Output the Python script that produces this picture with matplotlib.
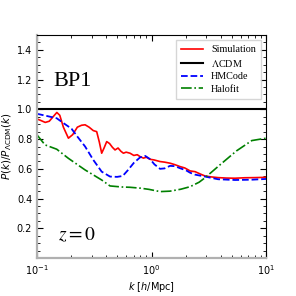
import numpy as np
import matplotlib
matplotlib.use("Agg")
import matplotlib.pyplot as plt

plt.rcParams['mathtext.fontset'] = 'dejavusans'

# ========== Данные ==========
k_sim = [0.100, 0.108, 0.118, 0.128, 0.140, 0.149, 0.158, 0.170, 0.188, 0.205,
         0.225, 0.245, 0.263, 0.285, 0.310, 0.332, 0.350, 0.367, 0.385, 0.406,
         0.430, 0.455, 0.480, 0.510, 0.540, 0.568, 0.600, 0.649, 0.700, 0.750,
         0.794, 0.850, 0.900, 0.971, 1.05, 1.186, 1.30, 1.45, 1.60, 1.775,
         1.95, 2.17, 2.40, 2.65, 2.93, 3.30, 3.81, 4.50, 5.36, 6.50, 8.00, 10.0]
p_sim = [0.935, 0.925, 0.912, 0.920, 0.955, 0.979, 0.960, 0.880, 0.806, 0.830,
         0.880, 0.893, 0.896, 0.880, 0.857, 0.850, 0.780, 0.705, 0.740, 0.783,
         0.770, 0.745, 0.727, 0.740, 0.718, 0.705, 0.712, 0.705, 0.690, 0.695,
         0.682, 0.672, 0.678, 0.664, 0.660, 0.649, 0.645, 0.638, 0.628, 0.615,
         0.606, 0.586, 0.581, 0.566, 0.552, 0.546, 0.541, 0.538, 0.537, 0.540,
         0.541, 0.543]

k_hm = [0.100, 0.1175, 0.1486, 0.172, 0.2, 0.225, 0.263, 0.31, 0.367, 0.434,
        0.50, 0.56, 0.62, 0.70, 0.794, 0.88, 0.971, 1.06, 1.186, 1.30, 1.45,
        1.60, 1.775, 2.0, 2.17, 2.40, 2.93, 3.81, 5.36, 7.5, 10.0]
p_hm = [0.970, 0.958, 0.940, 0.905, 0.870, 0.817, 0.750, 0.660, 0.581, 0.548,
        0.546, 0.552, 0.590, 0.640, 0.677, 0.687, 0.665, 0.630, 0.600, 0.603,
        0.620, 0.618, 0.604, 0.590, 0.574, 0.561, 0.548, 0.530, 0.525, 0.527,
        0.532]

k_hf = [0.100, 0.1175, 0.1486, 0.1876, 0.2625, 0.367, 0.434, 0.55, 0.649,
        0.80, 0.95, 1.186, 1.45, 1.80, 2.17, 2.60, 2.93, 4.0, 5.5, 7.5, 10.0]
p_hf = [0.828, 0.761, 0.732, 0.671, 0.593, 0.525, 0.485, 0.478, 0.476,
        0.470, 0.462, 0.447, 0.450, 0.463, 0.480, 0.510, 0.540, 0.630, 0.720,
        0.790, 0.806]

# ========== График ==========
fig, ax = plt.subplots(figsize=(2.96, 2.96), dpi=100)
fig.subplots_adjust(left=0.125, right=0.899, bottom=0.128, top=0.882)

ax.plot(k_sim, p_sim, color='red', lw=1.2, label='Simulation')
ax.axhline(1.0, color='black', lw=1.5, label=r'$\Lambda$CDM')
ax.plot(k_hm, p_hm, color='blue', lw=1.3, ls='--', label='HMCode')
ax.plot(k_hf, p_hf, color='green', lw=1.2, ls='-.', label='Halofit')

ax.set_xscale('log')
ax.set_xlim(0.1, 10)
ax.set_ylim(0, 1.5)
ax.set_yticks([0.2, 0.4, 0.6, 0.8, 1.0, 1.2, 1.4])
ax.set_yticks(np.arange(0.05, 1.5, 0.05), minor=True)

ax.tick_params(which='both', direction='in', top=True, right=True, labelsize=7)
ax.tick_params(which='major', length=4, width=0.8)
ax.tick_params(which='minor', length=2, width=0.6)

for side in ['left', 'bottom']:
    ax.spines[side].set_color('#b0b0b0')
    ax.spines[side].set_linewidth(1.6)
for side in ['top', 'right']:
    ax.spines[side].set_linewidth(0.8)

ax.set_xlabel(r'$k$ [$h$/Mpc]', fontsize=7, labelpad=2)
ax.set_ylabel(r'$P(k)/P_{\Lambda\mathrm{CDM}}(k)$', fontsize=7.5, labelpad=2)

ax.text(0.07, 0.77, 'BP1', transform=ax.transAxes, fontsize=16,
        family='Liberation Serif')
ax.text(0.09, 0.08, r'$z = 0$', transform=ax.transAxes, fontsize=14,
        math_fontfamily='stix')

leg = ax.legend(loc='upper right', prop={'family': 'Liberation Serif', 'size': 7.3},
                handlelength=2.2, borderpad=0.5, labelspacing=0.35, fancybox=False)
leg.get_frame().set_edgecolor('#cccccc')
for t in leg.get_texts():
    t.set_math_fontfamily('stix')

plt.savefig('out.png', dpi=100)
plt.close()
